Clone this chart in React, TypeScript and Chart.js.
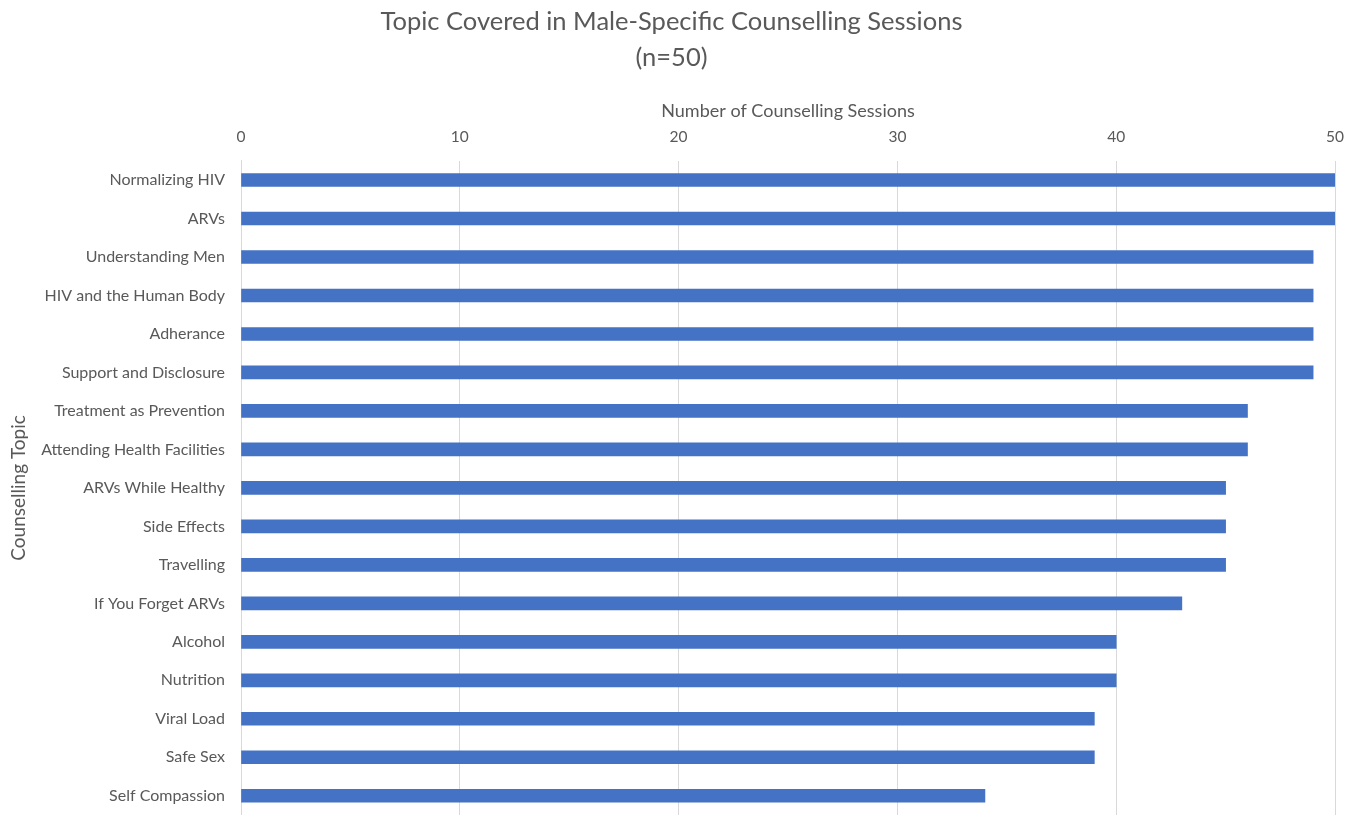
import React, { useEffect, useRef } from "react";
import { Chart, registerables } from "chart.js";

Chart.register(...registerables);

const categories = [
  "Normalizing HIV",
  "ARVs",
  "Understanding Men",
  "HIV and the Human Body",
  "Adherance",
  "Support and Disclosure",
  "Treatment as Prevention",
  "Attending Health Facilities",
  "ARVs While Healthy",
  "Side Effects",
  "Travelling",
  "If You Forget ARVs",
  "Alcohol",
  "Nutrition",
  "Viral Load",
  "Safe Sex",
  "Self Compassion",
];
const sessions = [50, 50, 49, 49, 49, 49, 46, 46, 45, 45, 45, 43, 40, 40, 39, 39, 34];
const titleLines = ["Topic Covered in Male-Specific Counselling Sessions", "(n=50)"];
const xTitle = "Number of Counselling Sessions";
const yTitle = "Counselling Topic";

const FONT = "Lato, 'Open Sans', sans-serif";
const TEXT = "#595959";

export default function App() {
  const ref = useRef<HTMLCanvasElement | null>(null);
  useEffect(() => {
    if (!ref.current) return;
    const chart = new Chart(ref.current, {
      type: "bar",
      data: {
        labels: categories,
        datasets: [
          {
            data: sessions,
            backgroundColor: "#4472C4",
            borderWidth: 0,
            barThickness: 13,
          },
        ],
      },
      options: {
        indexAxis: "y",
        animation: false,
        responsive: false,
        layout: { padding: { left: 7, right: 23, top: 4, bottom: 0 } },
        plugins: {
          legend: { display: false },
          tooltip: { enabled: false },
          title: {
            display: true,
            text: titleLines,
            color: TEXT,
            font: { family: FONT, size: 25.5, weight: "normal", lineHeight: 1.4 },
            padding: { top: 0, bottom: 35 },
          },
        },
        scales: {
          x: {
            position: "top",
            min: 0,
            max: 50,
            ticks: {
              stepSize: 10,
              color: TEXT,
              font: { family: FONT, size: 15.5 },
              padding: 15,
            },
            grid: { color: "#d9d9d9", drawTicks: false, lineWidth: 1 },
            border: { display: false },
            title: {
              display: true,
              text: xTitle,
              color: TEXT,
              font: { family: FONT, size: 18, lineHeight: 0.1 },
              padding: { top: 0, bottom: 0 },
            },
          },
          y: {
            ticks: {
              color: TEXT,
              font: { family: FONT, size: 16 },
              padding: 16,
            },
            grid: { display: false, drawTicks: false },
            border: { display: true, color: "#d9d9d9" },
            title: {
              display: true,
              text: yTitle,
              color: TEXT,
              font: { family: FONT, size: 19 },
              padding: { top: 0, bottom: 4 },
            },
            afterFit: (scale: any) => {
              scale.width = 234;
              scale.paddingTop = 0;
              scale.paddingBottom = 0;
            },
          },
        },
      },
    });
    return () => chart.destroy();
  }, []);
  return (
    <div style={{ position: "fixed", left: 0, top: 0, width: 1359, height: 815, background: "#fff" }}>
      <canvas ref={ref} width={1359} height={815} />
    </div>
  );
}
